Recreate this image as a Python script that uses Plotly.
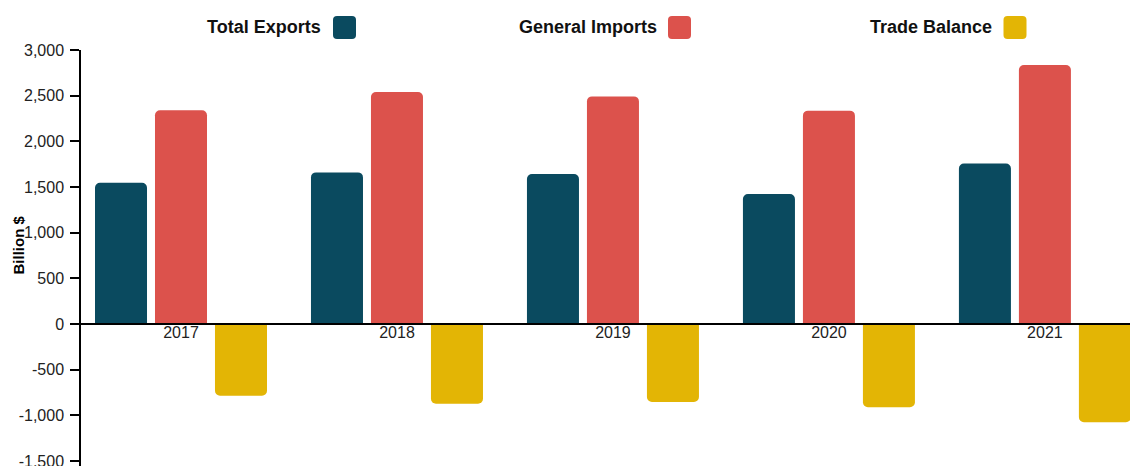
import plotly.graph_objects as go

# ---- data ----
years = ["2017", "2018", "2019", "2020", "2021"]
total_exports = [1546, 1660, 1643, 1422, 1758]
general_imports = [2340, 2540, 2492, 2336, 2835]
trade_balance = [-785, -872, -853, -912, -1076]

series_names = ["Total Exports", "General Imports", "Trade Balance"]
series_colors = ["#0a4a5f", "#dc524c", "#e3b505"]

y_tickvals = [-1500, -1000, -500, 0, 500, 1000, 1500, 2000, 2500, 3000]
y_ticktext = ["-1,500", "-1,000", "-500", "0", "500", "1,000", "1,500", "2,000", "2,500", "3,000"]

# ---- layout geometry (pixels); the page body adds an 8px offset ----
OFF = 8
W, H = 1138 - OFF, 466 - OFF
ML, MR, MT, MB = 81 - OFF, 0, 50 - OFF, 0
PW, PH = W - ML - MR, H - MT - MB


def px_x(px):
    # px given in screen pixels
    return (px - OFF - ML) / PW


def px_y(py):
    return (H - MB - (py - OFF)) / PH


FONT = "Liberation Sans, Arial, sans-serif"

fig = go.Figure()
for name, vals, col in zip(series_names, [total_exports, general_imports, trade_balance], series_colors):
    fig.add_trace(go.Bar(
        x=years, y=vals, name=name,
        marker=dict(color=col, line=dict(width=0), cornerradius=5),
        showlegend=False,
    ))

y_max = 3000
# bottom of plot area at screen y=466, 0 at screen y=324, 3000 at y=50
y_min = -(466 - 324) * y_max / (324 - 50)
zero_pos = (0 - y_min) / (y_max - y_min)

fig.update_layout(
    width=W, height=H,
    margin=dict(l=ML, r=MR, t=MT, b=MB, autoexpand=False),
    paper_bgcolor="white", plot_bgcolor="white",
    barmode="group", bargap=0.1667, bargroupgap=0.133,
    font=dict(family=FONT, size=16, color="#222"),
    xaxis=dict(
        type="category", range=[-0.463, 4.431],
        anchor="free", position=zero_pos,
        showline=True, linecolor="#000", linewidth=2,
        ticks="", showgrid=False, zeroline=False,
        tickfont=dict(size=16, color="#222"),
        ticklabelstandoff=-6,
        automargin=False,
    ),
    yaxis=dict(
        range=[y_min, y_max],
        tickmode="array", tickvals=y_tickvals, ticktext=y_ticktext,
        showline=True, linecolor="#000", linewidth=1.5,
        ticks="outside", ticklen=9, tickwidth=1.5, tickcolor="#000",
        ticklabelstandoff=3, ticklabeloverflow="allow",
        showgrid=False, zeroline=False,
        tickfont=dict(size=16, color="#222"),
        automargin=False,
    ),
)

# axis title
fig.add_annotation(
    text="<b>Billion $</b>", textangle=-90,
    xref="paper", yref="paper", x=px_x(17.5), y=px_y(245),
    xanchor="center", yanchor="middle", showarrow=False,
    font=dict(family=FONT, size=15, color="#000"),
)

# custom legend: label to the left of a rounded swatch
legend_text_right = [323, 659, 994]
legend_swatch_cx = [344.5, 679.5, 1015]
legend_cy = 27.5
r, hs = 4, 11.5
swatch_path = (
    f"M {-hs},{-hs + r} L {-hs},{hs - r} Q {-hs},{hs} {-hs + r},{hs} "
    f"L {hs - r},{hs} Q {hs},{hs} {hs},{hs - r} L {hs},{-hs + r} "
    f"Q {hs},{-hs} {hs - r},{-hs} L {-hs + r},{-hs} Q {-hs},{-hs} {-hs},{-hs + r} Z"
)
for name, col, tr, cx in zip(series_names, series_colors, legend_text_right, legend_swatch_cx):
    fig.add_annotation(
        text=f"<b>{name}</b>", xref="paper", yref="paper",
        x=px_x(tr), y=px_y(legend_cy), xanchor="right", yanchor="middle",
        showarrow=False, font=dict(family=FONT, size=18, color="#111"),
    )
    fig.add_shape(
        type="path", xref="paper", yref="paper",
        xsizemode="pixel", ysizemode="pixel",
        xanchor=px_x(cx), yanchor=px_y(legend_cy),
        path=swatch_path, fillcolor=col, line=dict(width=0),
    )

fig.write_html("out.html", config={"displayModeBar": False})
